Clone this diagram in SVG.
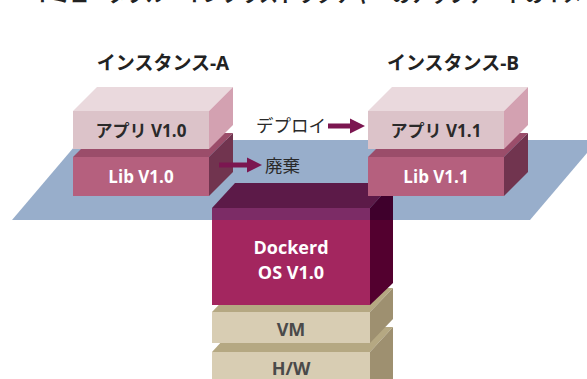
<svg xmlns="http://www.w3.org/2000/svg" width="587" height="379" viewBox="0 0 587 379">
<style>
.t{font-family:"Open Sans","Noto Sans CJK JP",sans-serif;font-weight:700;text-anchor:middle}
.jp{font-family:"Noto Sans CJK JP",sans-serif}
.hd{font-size:19px;fill:#222}
.app{font-size:17px;fill:#2a2a2a}
.lib{font-size:17px;fill:#fff}
.big{font-size:18px;fill:#fff}
.base{font-size:18px;fill:#4a4a4a}
.lbl{font-size:17.5px;fill:#2a2a2a;font-weight:400}
.arr{fill:#7b1650}
.appF{fill:#dcc3c9}.appT{fill:#ead9dd}.appR{fill:#d3a1b1}
.libF{fill:#b5607e}.libT{fill:#9b4d6a}.libR{fill:#71344f}
.bF{fill:#d8cdb3}.bT{fill:#b5a882}.bR{fill:#9e9070}
</style>
<rect width="587" height="379" fill="#fff"/>
<text class="jp" x="32" y="2" font-size="19" font-weight="700" fill="#222">イミュータブル・インフラストラクチャーのアップデートのイメージ</text>

<g id="hw">
<polygon class="bT" points="212,352 235,327 393,327 370,352"/>
<polygon class="bR" points="370,352 393,327 393,379 370,379"/>
<rect class="bF" x="212" y="352" width="158" height="27"/>
<text class="t base" x="291" y="375">H/W</text>
</g>
<g id="vm">
<polygon class="bT" points="212,312 235,288 393,288 370,312"/>
<polygon class="bR" points="370,312 393,288 393,319 370,343"/>
<rect class="bF" x="212" y="312" width="158" height="31"/>
<text class="t base" x="291" y="336">VM</text>
</g>
<g id="dockerd">
<polygon fill="#5c1a48" points="212,208 235,183 393,183 370,208"/>
<polygon fill="#53002f" points="370,208 393,183 393,283 370,305"/>
<polygon fill="#3f002c" points="370,208 393,183 393,220 370,220"/>
<rect fill="#a3265f" x="212" y="208" width="158" height="97"/>
<rect fill="#7c2c66" x="212" y="208" width="158" height="12"/>
<text class="t big" x="291" y="254">Dockerd</text>
<text class="t big" x="291" y="279">OS V1.0</text>
</g>
<g id="plane">
<polygon fill="#98aecb" points="80,140 598,140 530,220 12,220"/>
<polygon fill="#5c1a48" points="212,208 235,183 393,183 370,208"/>
<polygon fill="#3f002c" points="370,208 393,183 393,220 370,220"/>
<rect fill="#7c2c66" x="212" y="208" width="158" height="12"/>
</g>

<g id="lib-a">
<polygon class="libT" points="73,157 97,133 233,133 209,157"/>
<polygon class="libR" points="209,157 233,133 233,172 209,196"/>
<rect class="libF" x="73" y="157" width="136" height="39"/>
<text class="t lib" x="141" y="183">Lib V1.0</text>
</g>
<g id="app-a">
<polygon class="appT" points="73,111 97,87 233,87 209,111"/>
<polygon class="appR" points="209,111 233,87 233,125 209,149"/>
<rect class="appF" x="73" y="111" width="136" height="38"/>
<text class="t app" x="141" y="137">アプリ V1.0</text>
</g>
<g id="lib-b">
<polygon class="libT" points="368,157 392,133 528,133 504,157"/>
<polygon class="libR" points="504,157 528,133 528,172 504,196"/>
<rect class="libF" x="368" y="157" width="136" height="39"/>
<text class="t lib" x="436" y="183">Lib V1.1</text>
</g>
<g id="app-b">
<polygon class="appT" points="368,111 392,87 528,87 504,111"/>
<polygon class="appR" points="504,111 528,87 528,125 504,149"/>
<rect class="appF" x="368" y="111" width="136" height="38"/>
<text class="t app" x="436" y="137">アプリ V1.1</text>
</g>
<g id="instance-a-label"><text class="t hd" x="163" y="70">インスタンス-A</text></g>
<g id="instance-b-label"><text class="t hd" x="453" y="70">インスタンス-B</text></g>

<g id="connectors">
<rect class="arr" x="328" y="123.5" width="24" height="5"/>
<polygon class="arr" points="350,118.5 365,126 350,133.5"/>
<text class="jp lbl" x="256" y="132">デプロイ</text>
<rect class="arr" x="219" y="162.5" width="30" height="5"/>
<polygon class="arr" points="247,157.5 262,165 247,172.5"/>
<text class="jp lbl" x="265" y="172">廃棄</text>
</g>
</svg>
